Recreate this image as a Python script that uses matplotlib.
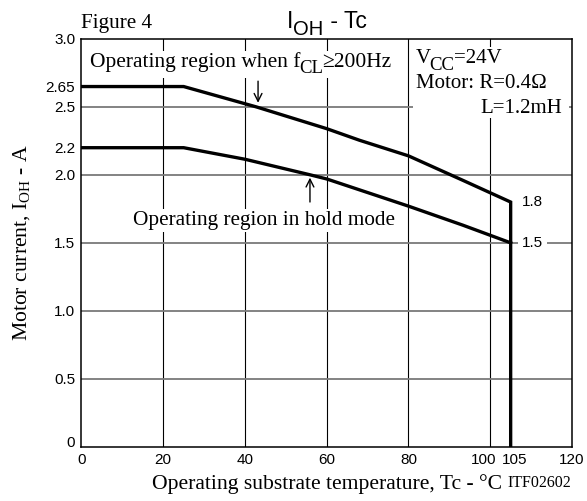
import matplotlib
matplotlib.use("Agg")
import matplotlib.pyplot as plt
import matplotlib.transforms as mtransforms
from matplotlib.ticker import FixedLocator
from matplotlib.patches import Rectangle

# ---- data ----
upper_x = [0, 25, 42.8, 60, 68, 80, 93.3, 105, 105]
upper_y = [2.65, 2.65, 2.5, 2.34, 2.255, 2.14, 1.96, 1.8, 0.0]
lower_x = [0, 25, 40, 56, 60, 80, 93.3, 105]
lower_y = [2.2, 2.2, 2.115, 2.0, 1.97, 1.77, 1.63, 1.5]

x_ticks = [0, 20, 40, 60, 80, 100, 105, 120]
x_tick_labels = ["0", "20", "40", "60", "80", "100", "105", "120"]
y_ticks = [0, 0.5, 1.0, 1.5, 2.0, 2.2, 2.5, 2.65, 3.0]
y_tick_labels = ["0", "0.5", "1.0", "1.5", "2.0", "2.2", "2.5", "2.65", "3.0"]
x_grid = [20, 40, 60, 80, 100]
y_grid = [0.5, 1.0, 1.5, 2.0, 2.5]

SERIF = "Liberation Serif"
SANS = "Liberation Sans"
TXT = 15.5

fig = plt.figure(figsize=(5.87, 5.01), dpi=100)
ax = fig.add_axes([0.1388, 0.1084, 0.8356, 0.8138])
ax.set_xlim(0, 120)
ax.set_ylim(0, 3.0)

ax.set_xticks(x_ticks)
ax.set_xticklabels(x_tick_labels, fontfamily=SANS, fontsize=11)
ax.set_yticks(y_ticks)
ax.set_yticklabels(y_tick_labels, fontfamily=SANS, fontsize=11)
ax.tick_params(axis="both", which="both", length=0, pad=4.5)

ax.xaxis.remove_overlapping_locs = False
ax.yaxis.remove_overlapping_locs = False
ax.xaxis.set_minor_locator(FixedLocator(x_grid))
ax.yaxis.set_minor_locator(FixedLocator(y_grid))
ax.set_axisbelow(True)
ax.xaxis.grid(True, which="minor", color="black", linewidth=0.8)
ax.yaxis.grid(True, which="minor", color="#7a7a7a", linewidth=1.3)
ax.xaxis.grid(False, which="major")
ax.yaxis.grid(False, which="major")

for sp in ax.spines.values():
    sp.set_linewidth(1.1)
    sp.set_color("black")

# shift the crowded "100" / "105" labels apart, and the 0 label up a bit
for lbl in ax.get_xticklabels():
    t = lbl.get_text()
    if t == "100":
        lbl.set_transform(lbl.get_transform() + mtransforms.ScaledTranslation(-5 / 72, 0, fig.dpi_scale_trans))
    elif t == "105":
        lbl.set_transform(lbl.get_transform() + mtransforms.ScaledTranslation(3 / 72, 0, fig.dpi_scale_trans))
for lbl in ax.get_yticklabels():
    if lbl.get_text() == "0":
        lbl.set_transform(lbl.get_transform() + mtransforms.ScaledTranslation(0, 4 / 72, fig.dpi_scale_trans))


def rich(x, y, pieces, transform, family, zorder=5):
    """Draw text pieces side by side; each piece is (text, size, dx_points, dy_points)."""
    s0, fs0, _, _ = pieces[0]
    kw = dict(fontfamily=family, zorder=zorder, clip_on=False)
    first = fig.text(x, y, s0, transform=transform, fontsize=fs0, va="baseline", ha="left", **kw)
    arts = [first]
    prev = first
    for s, fs, dx, dy in pieces[1:]:
        a = fig.add_artist(matplotlib.text.Annotation(
            s, xy=(1, 0), xycoords=prev, xytext=(dx, dy), textcoords="offset points",
            fontsize=fs, va="bottom", ha="left", **kw))
        arts.append(a)
        prev = a
    return arts


# curves
ax.plot(upper_x, upper_y, color="black", linewidth=2.4, solid_joinstyle="miter", zorder=4)
ax.plot(lower_x, lower_y, color="black", linewidth=2.4, solid_joinstyle="miter", zorder=4)

# white box behind conditions text
ax.add_patch(Rectangle((0.6755, 0.8067), 0.3183, 0.1733, transform=ax.transAxes,
                       facecolor="white", edgecolor="none", zorder=1.5))
rich(81.8, 2.823, [("V", 15, 0, 0), ("CC", 13.5, -1, -4), ("=24V", 15, -0.5, 4)], ax.transData, SERIF)
ax.text(81.8, 2.637, "Motor: R=0.4Ω", fontfamily=SERIF, fontsize=15,
        va="baseline", ha="left", zorder=5)
ax.text(117.7, 2.458, "L=1.2mH", fontfamily=SERIF, fontsize=15,
        va="baseline", ha="right", zorder=5)

# region annotations
wb = dict(facecolor="white", edgecolor="none", pad=1.5)
fcl_arts = rich(2.0, 2.795, [("Operating region when f", TXT, 0, 0), ("CL", 13.5, -0.5, -4),
                             ("≥200Hz", TXT, -1.0, 4)], ax.transData, SERIF)
ax.text(12.6, 1.63, "Operating region in hold mode", fontfamily=SERIF,
        fontsize=15.3, va="baseline", ha="left", zorder=5, bbox=wb)
ax.annotate("", xy=(43.2, 2.51), xytext=(43.2, 2.71),
            arrowprops=dict(arrowstyle="->", color="black", lw=1.0, mutation_scale=14), zorder=5)
ax.annotate("", xy=(55.9, 2.0), xytext=(55.9, 1.78),
            arrowprops=dict(arrowstyle="->", color="black", lw=1.0, mutation_scale=14), zorder=5)

# end values
ax.text(upper_x[-2] + 2.7, upper_y[-2], "1.8", fontfamily=SANS, fontsize=11,
        va="center", ha="left", zorder=5)
ax.text(lower_x[-1] + 2.7, lower_y[-1], "1.5", fontfamily=SANS, fontsize=11,
        va="center", ha="left", zorder=5,
        bbox=dict(facecolor="white", edgecolor="none", pad=3))

# title made of pieces (large subscript), centred over the axes
title_arts = rich(0.5, 1 - 28 / 501, [("I", 16.5, 0, 0), ("OH", 14.5, 0, -4.5), (" - Tc", 16.5, 0, 4.5)],
                  fig.transFigure, SANS)
fig.canvas.draw()
r = fig.canvas.get_renderer()
x0 = min(a.get_window_extent(r).x0 for a in title_arts)
x1 = max(a.get_window_extent(r).x1 for a in title_arts)
axbb = ax.get_window_extent(r)
centre = (axbb.x0 + axbb.x1) / 2
title_arts[0].set_x(0.5 + (centre - (x0 + x1) / 2) / fig.bbox.width)

# white background behind the whole f_CL annotation
ext = [a.get_window_extent(r) for a in fcl_arts]
bx0 = min(e.x0 for e in ext) - 2
bx1 = max(e.x1 for e in ext) + 2
by0 = min(e.y0 for e in ext) - 1
by1 = max(e.y1 for e in ext) + 1
fig.add_artist(Rectangle((bx0, by0), bx1 - bx0, by1 - by0, transform=None,
                         facecolor="white", edgecolor="none", zorder=4.5))

fig.text(81 / 587, 1 - 28 / 501, "Figure 4", fontfamily=SERIF, fontsize=15.2,
         ha="left", va="baseline")
ax.set_xlabel("Operating substrate temperature, Tc - °C", fontfamily=SERIF, fontsize=15.6,
              labelpad=5)
ax.set_ylabel(r"Motor current, I$\mathregular{_{OH}}$ - A", fontfamily=SERIF, fontsize=15.6,
              labelpad=10)
fig.text(571 / 587, 1 - 487 / 501, "ITF02602", fontfamily=SERIF, fontsize=11.5,
         ha="right", va="baseline")

fig.savefig("out.png", dpi=100)
